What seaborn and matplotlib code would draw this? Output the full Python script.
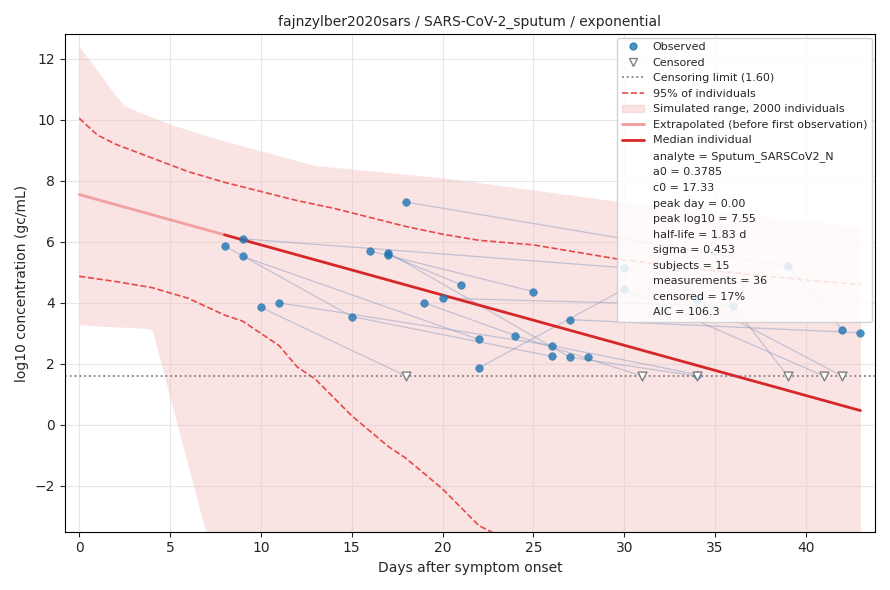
import numpy as np
import matplotlib
matplotlib.use("Agg")
import matplotlib.pyplot as plt
import seaborn as sns
from matplotlib.lines import Line2D
from matplotlib.patches import Patch

sns.set_style("white")

# subjects: list of (day, log10, censored)
subjects = [
    [(8, 5.87, 0), (15, 3.55, 0), (26, 2.25, 0)],
    [(9, 6.10, 0), (30, 5.15, 0)],
    [(9, 5.52, 0), (22, 2.80, 0)],
    [(10, 3.85, 0), (18, 1.60, 1)],
    [(11, 4.00, 0), (26, 2.60, 0), (34, 1.65, 0)],
    [(16, 5.70, 0), (25, 4.37, 0)],
    [(17, 5.65, 0), (27, 2.22, 0), (34, 1.60, 1)],
    [(17, 5.58, 0), (21, 4.60, 0)],
    [(18, 7.30, 0), (39, 5.20, 0), (42, 3.12, 0)],
    [(19, 4.00, 0), (24, 2.93, 0), (31, 1.60, 1)],
    [(20, 4.15, 0), (36, 3.90, 0), (39, 1.60, 1)],
    [(22, 1.87, 0), (30, 4.45, 0), (41, 1.60, 1)],
    [(27, 3.45, 0), (43, 3.02, 0)],
    [(34, 4.10, 0), (42, 1.60, 1)],
    [(28, 2.22, 0)],
]

lod = 1.60
band_days = [0, 2, 2.5, 5, 8, 13, 20, 30, 43]
band_hi = [12.4, 10.8, 10.45, 9.85, 9.3, 8.5, 8.1, 7.3, 6.5]
band_lo_days = [0, 4, 7, 43]
band_lo = [3.28, 3.15, -3.6, -3.6]

p_days_hi = [0, 1, 2, 4, 6, 8, 10, 12, 14, 16, 18, 20, 22, 25, 28, 30, 35, 40, 43]
p_hi = [10.05, 9.5, 9.2, 8.75, 8.3, 7.95, 7.65, 7.35, 7.1, 6.8, 6.5, 6.25, 6.05, 5.9, 5.6, 5.4, 5.05, 4.75, 4.6]
p_days_lo = [0, 2, 4, 6, 8, 9, 10, 11, 12, 13, 15, 17, 18, 20, 22, 23]
p_lo = [4.87, 4.7, 4.5, 4.15, 3.6, 3.4, 3.0, 2.6, 1.9, 1.5, 0.3, -0.7, -1.1, -2.1, -3.3, -3.6]

extrap_days = [0, 8]
extrap_vals = [7.55, 6.23]
median_days = [8, 43]
median_vals = [6.23, 0.47]

stats = ["analyte = Sputum_SARSCoV2_N", "a0 = 0.3785", "c0 = 17.33", "peak day = 0.00",
         "peak log10 = 7.55", "half-life = 1.83 d", "sigma = 0.453", "subjects = 15",
         "measurements = 36", "censored = 17%", "AIC = 106.3"]

fig, ax = plt.subplots(figsize=(8.9, 5.9), dpi=100)
ax.grid(True, color="#e6e6e6", lw=0.8)

grid = np.linspace(0, 43, 300)
ax.fill_between(grid, np.interp(grid, band_lo_days, band_lo), np.interp(grid, band_days, band_hi),
                color="#f4c2c2", alpha=0.45, lw=0)
ax.plot(p_days_hi, p_hi, ls="--", color="#e8484a", lw=1.2)
ax.plot(p_days_lo, p_lo, ls="--", color="#e8484a", lw=1.2)
ax.axhline(lod, ls=":", color="gray", lw=1.3)

for s in subjects:
    d = [p[0] for p in s]
    v = [p[1] for p in s]
    ax.plot(d, v, color="#7f97bf", lw=0.9, alpha=0.45)
obs = [(p[0], p[1]) for s in subjects for p in s if not p[2]]
cen = [(p[0], p[1]) for s in subjects for p in s if p[2]]
sns.scatterplot(x=[o[0] for o in obs], y=[o[1] for o in obs], ax=ax, color="#1f77b4",
                alpha=0.8, s=30, edgecolor="#1f77b4", zorder=3)
sns.scatterplot(x=[c[0] for c in cen], y=[c[1] for c in cen], ax=ax, marker="v", s=40,
                facecolor="white", edgecolor="gray", linewidth=1, zorder=3)

ax.plot(extrap_days, extrap_vals, color="#f09a9a", lw=2, alpha=0.9)
ax.plot(median_days, median_vals, color="#d62728", lw=2)

ax.set_xlim(-0.8, 43.8)
ax.set_ylim(-3.5, 12.8)
ax.set_xlabel("Days after symptom onset", fontsize=10)
ax.set_ylabel("log10 concentration (gc/mL)", fontsize=10)
ax.set_title("fajnzylber2020sars / SARS-CoV-2_sputum / exponential", fontsize=10)
ax.tick_params(left=True, bottom=True, labelsize=10)
for sp in ax.spines.values():
    sp.set_color("black")

handles = [
    Line2D([], [], marker="o", ls="", color="#1f77b4", alpha=0.8, markersize=5),
    Line2D([], [], marker="v", ls="", markerfacecolor="white", markeredgecolor="gray", markersize=6),
    Line2D([], [], ls=":", color="gray", lw=1.3),
    Line2D([], [], ls="--", color="#e8484a", lw=1.2),
    Patch(color="#f4c2c2", alpha=0.45),
    Line2D([], [], color="#f09a9a", lw=2),
    Line2D([], [], color="#d62728", lw=2),
] + [Line2D([], [], ls="", marker="") for _ in stats]
labels = ["Observed", "Censored", "Censoring limit (1.60)", "95% of individuals",
          "Simulated range, 2000 individuals", "Extrapolated (before first observation)",
          "Median individual"] + stats
ax.legend(handles, labels, loc="upper right", fontsize=8, framealpha=0.85,
          labelspacing=0.5, handlelength=2.0, borderaxespad=0.3)

plt.tight_layout()
plt.savefig("out.png")
